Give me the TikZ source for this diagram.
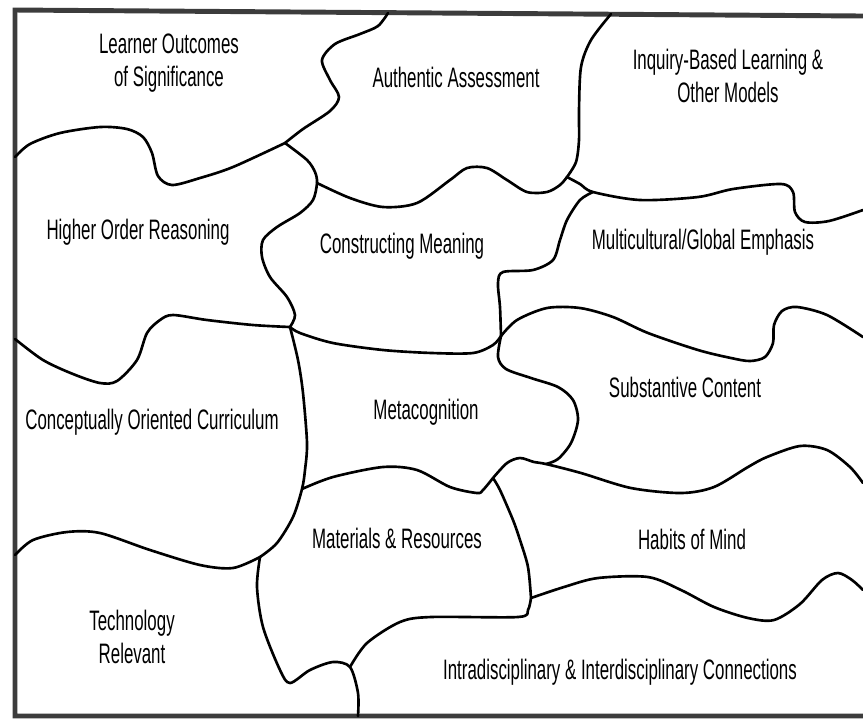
\documentclass[tikz,border=0pt]{standalone}
\usepackage{fontspec}
\setmainfont{Liberation Sans}[FakeStretch=0.6]
\usetikzlibrary{calc}
\definecolor{framegray}{HTML}{3C3C3C}

\begin{document}
\begin{tikzpicture}[x=0.01cm,y=-0.01cm,
			seam/.style={line width=0.75pt,line join=round,line cap=round},
			marco/.style={draw=framegray,line width=1.4pt},
			tema/.style={align=center,font=\fontsize{8}{9.2}\selectfont,inner sep=0pt}
			]
			\useasboundingbox (0,0) rectangle (863,720);
			\coordinate (j1) at (285,143);
			\coordinate (j2) at (317,183);
			\coordinate (j3) at (290,327);
			\coordinate (j4) at (302,489);
			\coordinate (j5) at (260,557);
			\coordinate (j7) at (350,667);
			\coordinate (j8) at (493,478);
			\coordinate (j9) at (531,598);
			\coordinate (j10) at (546,464);
			\coordinate (j11) at (501,336);
			\coordinate (j12) at (593,192);
			\coordinate (j13) at (567,177);
			\draw[marco] (863,16) -- (15,10) -- (15,716) -- (863,716);
			\draw[seam] plot[smooth] coordinates {(388,13) (378,26) (360,34) (335,44) (322,60) (330,80) (339,97) (330,111) (303,129) (j1)};
			\draw[seam] plot[smooth] coordinates {(j1) (233,167) (200,178) (172,185) (158,176) (152,153) (143,137) (127,129) (100,127) (60,133) (30,144) (15,157)};
			\draw[seam] plot[smooth] coordinates {(j1) (307,160) (315,172) (j2) (313,200) (300,213) (277,227) (263,240) (262,257) (270,277) (287,297) (295,315) (j3)};
			\draw[seam] plot[smooth] coordinates {(j2) (350,198) (383,207) (417,203) (450,180) (467,168) (487,168) (507,180) (527,192) (547,192) (560,185) (j13)};
			\draw[seam] plot[smooth] coordinates {(j13) (576,162) (579,140) (579,110) (581,67) (591,40) (611,14)};
			\draw[seam] plot[smooth] coordinates {(j13) (580,184) (j12) (640,200) (698,197) (733,189) (781,184) (793,192) (795,212) (805,222) (829,221) (863,210)};
			\draw[seam] plot[smooth] coordinates {(j3) (253,325) (207,320) (173,315) (160,320) (147,333) (137,360) (117,381) (100,383) (73,374) (43,360) (15,339)};
			\draw[seam] plot[smooth] coordinates {(j3) (300,333) (333,343) (383,350) (432,353) (473,353) (493,345) (j11)};
			\draw[seam] plot[smooth] coordinates {(j12) (580,200) (567,220) (560,240) (553,260) (533,270) (503,272) (498,283) (500,307) (j11)};
			\draw[seam] plot[smooth] coordinates {(j11) (517,320) (547,308) (580,308) (613,317) (648,333) (698,350) (731,358) (750,361) (765,357) (773,343) (774,325) (782,311) (797,307) (827,315) (863,337)};
			\draw[seam] plot[smooth] coordinates {(j11) (498,357) (506,369) (531,378) (558,387) (573,400) (578,420) (571,443) (558,459) (j10)};
			\draw[seam] plot[smooth] coordinates {(j3) (298,360) (303,393) (307,443) (305,470) (j4) (293,517) (277,543) (j5)};
			\draw[seam] plot[smooth] coordinates {(j4) (333,477) (383,467) (417,470) (450,487) (477,493) (483,490) (j8)};
			\draw[seam] plot[smooth] coordinates {(j8) (507,463) (520,458) (534,462) (j10) (581,473) (631,488) (681,493) (714,487) (748,467) (767,457) (800,446) (827,450) (850,467) (863,483)};
			\draw[seam] plot[smooth] coordinates {(j8) (500,490) (513,520) (520,540) (528,567) (j9)};
			\draw[seam] plot[smooth] coordinates {(j9) (528,610) (518,617) (431,617) (400,622) (367,643) (j7)};
			\draw[seam] plot[smooth] coordinates {(j9) (564,587) (598,578) (648,577) (681,590) (714,607) (748,618) (774,620) (800,604) (822,580) (838,573) (852,580) (863,590)};
			\draw[seam] plot[smooth] coordinates {(j5) (233,568) (200,565) (150,550) (100,533) (67,532) (33,540) (15,555)};
			\draw[seam] plot[smooth] coordinates {(j5) (257,587) (263,627) (280,670) (290,683) (310,670) (333,662) (j7) (358,693) (358,716)};
			\node[tema] (lo) at (169,63) {Learner Outcomes\\of Significance};
			\node[tema] (aa) at (456,77) {Authentic Assessment};
			\node[tema] (ib) at (728,76) {Inquiry-Based Learning \&\\Other Models};
			\node[tema] (hr) at (138,232) {Higher Order Reasoning};
			\node[tema] (cm) at (402,246) {Constructing Meaning};
			\node[tema] (mg) at (703,242) {Multicultural/Global Emphasis};
			\node[tema] (oc) at (152,422) {Conceptually Oriented Curriculum};
			\node[tema] (mc) at (426,412) {Metacognition};
			\node[tema] (sc) at (685,387) {Substantive Content};
			\node[tema] (mr) at (397,538) {Materials \& Resources};
			\node[tema] (hm) at (692,539) {Habits of Mind};
			\node[tema] (tr) at (132,637) {Technology\\Relevant};
			\node[tema] (ic) at (620,672) {Intradisciplinary \& Interdisciplinary Connections};
		\end{tikzpicture}
\end{document}
